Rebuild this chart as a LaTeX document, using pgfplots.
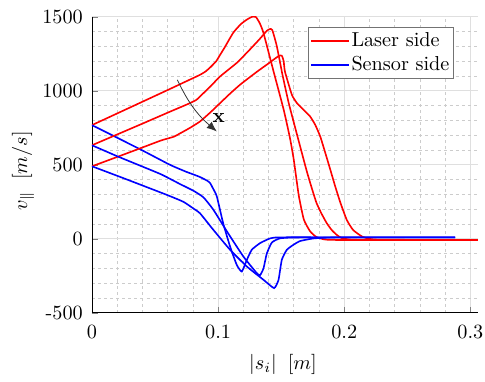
\documentclass[border=0pt]{standalone}
\usepackage{pgfplots}
\pgfplotsset{compat=1.18}
\usetikzlibrary{arrows.meta}
\definecolor{mred}{rgb}{1,0,0}
\definecolor{mblue}{rgb}{0,0,1}
\definecolor{legframe}{rgb}{0.45,0.45,0.45}
\begin{document}
\begin{tikzpicture}
\path (-45.5pt,-31.2pt) rectangle (194.5pt,154.8pt);
\begin{axis}[
  at={(0,0)}, anchor=south west,
  scale only axis,
  width=191pt, height=146.5pt,
  xmin=0, xmax=0.306, ymin=-500, ymax=1500,
  axis lines*=left,
  xtick={0,0.1,0.2,0.3}, xticklabels={0,0.1,0.2,0.3},
  ytick={-500,0,500,1000,1500}, yticklabels={-500,0,500,1000,1500},
  xticklabel style={yshift=-2.7pt, inner xsep=0.5pt},
  yticklabel style={xshift=-1pt},
  minor x tick num=4, minor y tick num=4,
  tick align=inside, minor tick length=0pt, major tick length=3pt,
  grid=both,
  major grid style={gray!25, line width=0.4pt},
  minor grid style={gray!40, dash pattern=on 1.5pt off 1.5pt, line width=0.3pt},
  xlabel={$|s_i|\;\;[m]$},
  ylabel={$v_{\parallel}\;\;[m/s]$},
  every axis x label/.style={at={(axis description cs:0.495,0)}, anchor=center, yshift=-25.5pt},
  every axis y label/.style={at={(axis description cs:-0.1785,0.48)}, anchor=center, rotate=90},
  legend style={at={(0.938,0.966)}, anchor=north east, draw=legframe, line width=0.5pt, inner sep=1pt, row sep=0pt, font=\normalsize, nodes={inner xsep=1pt, inner ysep=1.6pt}},
  legend cell align=left,
  legend image code/.code={\draw[#1, line width=0.8pt] (0cm,0cm) -- (0.65cm,0cm);},
  every axis plot/.append style={line width=0.8pt, smooth, tension=0.3},
]
\addlegendimage{color=mred}
\addlegendentry{Laser side}
\addlegendimage{color=mblue}
\addlegendentry{Sensor side}
% Red A
\addplot[color=mred, forget plot] coordinates {
(0,768) (0.02,847) (0.04,926) (0.06,1005) (0.08,1085) (0.0857,1108) (0.090,1130) (0.094,1160) (0.0985,1200) (0.1016,1243) (0.105,1290) (0.112,1392) (0.118,1450) (0.123,1482) (0.127,1500) (0.130,1498) (0.133,1457) (0.136,1390) (0.144,1130) (0.152,872) (0.157,680) (0.160,534) (0.164,290) (0.168,130) (0.173,50) (0.178,12) (0.185,-5) (0.2,-8) (0.306,-8)};
% Blue D
\addplot[color=mblue, forget plot] coordinates {
(0,768) (0.02,683) (0.04,597) (0.06,508) (0.066,484) (0.075,452) (0.085,420) (0.0915,392) (0.0937,376) (0.096,340) (0.099,286) (0.104,106) (0.1095,-52) (0.1148,-176) (0.1188,-221) (0.1228,-142) (0.1267,-74) (0.1333,-29) (0.1413,3) (0.149,10) (0.2,10) (0.288,10)};
% Red B
\addplot[color=mred, forget plot] coordinates {
(0,632) (0.02,705) (0.04,778) (0.06,852) (0.0778,917) (0.083,940) (0.0857,962) (0.094,1030) (0.1016,1097) (0.115,1190) (0.125,1277) (0.133,1350) (0.1386,1405) (0.141,1417) (0.143,1410) (0.1466,1300) (0.151,1110) (0.156,917) (0.163,690) (0.170,466) (0.174,350) (0.178,243) (0.182,170) (0.186,108) (0.190,60) (0.194,27) (0.198,5) (0.205,-5) (0.22,-8) (0.294,-8)};
% Red C
\addplot[color=mred, forget plot] coordinates {
(0,490) (0.02,553) (0.04,617) (0.055,665) (0.065,690) (0.0698,712) (0.0778,750) (0.0857,793) (0.094,855) (0.1016,917) (0.11,985) (0.118,1045) (0.131,1130) (0.14,1185) (0.148,1235) (0.1505,1237) (0.152,1200) (0.153,1130) (0.1585,973) (0.1625,917) (0.168,870) (0.173,826) (0.177,770) (0.181,691) (0.185,580) (0.189,466) (0.193,350) (0.197,243) (0.202,128) (0.207,60) (0.214,16) (0.22,0) (0.23,-6) (0.306,-8)};
% Blue E
\addplot[color=mblue, forget plot] coordinates {
(0,632) (0.02,558) (0.038,495) (0.055,435) (0.0698,370) (0.0804,325) (0.0884,280) (0.0963,196) (0.107,50) (0.120,-119) (0.1307,-232) (0.1333,-245) (0.136,-200) (0.1386,-100) (0.1426,-25) (0.149,3) (0.16,9) (0.2,10) (0.288,10)};
% Blue F
\addplot[color=mblue, forget plot] coordinates {
(0,490) (0.0249,410) (0.0593,297) (0.0725,250) (0.0804,205) (0.0857,172) (0.0963,60) (0.1095,-74) (0.1228,-187) (0.136,-277) (0.1444,-333) (0.1479,-277) (0.1505,-142) (0.1545,-74) (0.1598,-40) (0.165,-15) (0.175,2) (0.184,7) (0.2,10) (0.288,10)};
\draw[-{Latex[length=5pt,width=4pt]}, line width=0.4pt, black!80] (axis cs:0.0677,1074) to[bend right=12] (axis cs:0.099,725);
\node[font=\bfseries] at (axis cs:0.1005,818) {x};
\end{axis}
\end{tikzpicture}
\end{document}
